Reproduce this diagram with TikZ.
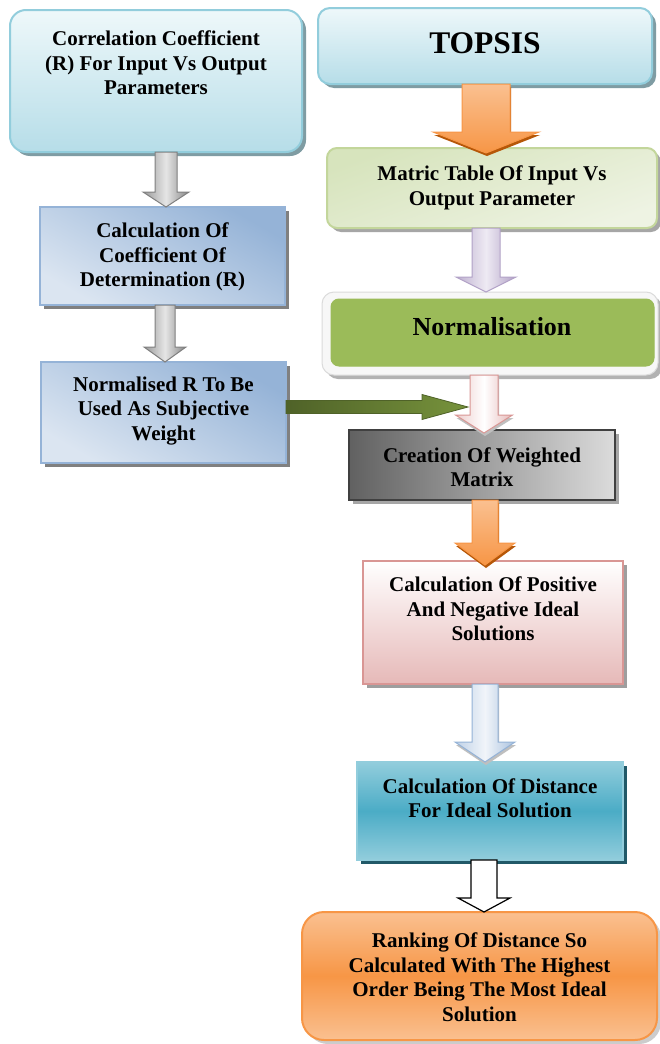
\documentclass[tikz,border=0pt]{standalone}
\usepackage{fontspec}
\setmainfont{Liberation Serif}
\usetikzlibrary{calc,shadows}
\definecolor{cyTop}{HTML}{EEF8FA}
\definecolor{cyBot}{HTML}{B6DDE8}
\definecolor{cyBrd}{HTML}{92CDDC}
\definecolor{cyShd}{HTML}{7F9CA3}
\definecolor{grTop}{HTML}{D7E4BD}
\definecolor{grBot}{HTML}{EEF3E3}
\definecolor{grBrd}{HTML}{C3D69B}
\definecolor{olive}{HTML}{9BBB59}
\definecolor{blLight}{HTML}{DBE5F1}
\definecolor{blDark}{HTML}{95B3D7}
\definecolor{pkBot}{HTML}{E6B9B8}
\definecolor{pkBrd}{HTML}{D99694}
\definecolor{tlMid}{HTML}{4BACC6}
\definecolor{tlEdge}{HTML}{92CDDC}
\definecolor{tlShd}{HTML}{215968}
\definecolor{orMid}{HTML}{F79646}
\definecolor{orLight}{HTML}{FAC090}
\definecolor{orShd}{HTML}{B65708}
\definecolor{puEdge}{HTML}{B2A2C7}
\definecolor{puLight}{HTML}{EEEAF3}
\definecolor{dkGreen}{HTML}{4F6228}
\definecolor{mdGreen}{HTML}{77933C}
\newcommand{\vblock}[7]{%
  \path[#1] let \p1=(#2), \p2=(#3) in
  ({\x1+#4pt-#5pt},\y1) -- ({\x1+#4pt+#5pt},\y1) -- ({\x1+#4pt+#5pt},{\y2+#7pt})
  -- ({\x1+#4pt+#6pt},{\y2+#7pt}) -- ({\x1+#4pt},\y2) -- ({\x1+#4pt-#6pt},{\y2+#7pt})
  -- ({\x1+#4pt-#5pt},{\y2+#7pt}) -- cycle;}
\newcommand{\hblock}[6]{%
  \path[#1] let \p1=(#2), \p2=(#3) in
  (\x1,{\y2+#4pt}) -- ({\x2-#6pt},{\y2+#4pt}) -- ({\x2-#6pt},{\y2+#5pt}) -- (\x2,\y2)
  -- ({\x2-#6pt},{\y2-#5pt}) -- ({\x2-#6pt},{\y2-#4pt}) -- (\x1,{\y2-#4pt}) -- cycle;}
\begin{document}
\begin{tikzpicture}[x=1pt,y=-1pt,
  box/.style={rectangle, inner sep=0pt, outer sep=0pt, line width=2pt},
  shd/.style={drop shadow={shadow xshift=4pt, shadow yshift=-4pt, fill=#1, opacity=1}},
  txt/.style={font=\fontsize{21}{24.5}\selectfont\bfseries, align=center, inner sep=0pt},
  corrbox/.style={box, rounded corners=16pt, top color=cyTop, bottom color=cyBot, draw=cyBrd, shd=cyShd},
  matbox/.style={box, rounded corners=10pt, top color=grTop, bottom color=grBot, shading angle=20, draw=grBrd, shd=black!35},
  bluebox/.style={box, top color=blLight, bottom color=blDark, shading angle=150, draw=blDark, shd=black!50},
  graybox/.style={box, left color=black!62, right color=black!14, draw=black!75, line width=1.5pt, shd=black!35},
  pinkbox/.style={box, top color=white, bottom color=pkBot, draw=pkBrd, shd=black!38},
  tealbox/.style={box, top color=tlEdge, bottom color=tlEdge, middle color=tlMid, draw=tlEdge, shd=tlShd},
  rankbox/.style={box, rounded corners=22pt, top color=orLight, bottom color=orLight, middle color=orMid, draw=orMid, shd=black!20},
  grayarr/.style={left color=black!40, right color=black!48, middle color=black!10, draw=black!50, line width=1pt},
  orarr/.style={top color=orLight, bottom color=orMid, draw=orMid, line width=1pt, drop shadow={shadow xshift=1pt, shadow yshift=-3pt, fill=orShd, opacity=1}},
  puarr/.style={left color=puEdge!85, right color=puEdge, middle color=puLight, draw=puEdge, line width=1pt},
  pkarr/.style={left color=pkBot!70, right color=pkBot, middle color=white, draw=pkBrd, line width=1pt, drop shadow={shadow xshift=1pt, shadow yshift=-3pt, fill=black!25, opacity=1}},
  blarr/.style={left color=blDark!60, right color=blDark!80, middle color=blLight!40, draw=blDark, line width=1pt, drop shadow={shadow xshift=1pt, shadow yshift=-3pt, fill=black!25, opacity=1}},
  wharr/.style={fill=white, draw=black, line width=1.2pt},
  gnarr/.style={left color=dkGreen, right color=mdGreen, draw=dkGreen, line width=0.8pt}
]
\useasboundingbox (0,0) rectangle (659,1044);
\fill[white] (0,0) rectangle (659,1044);

% left column
\node[corrbox, minimum width=292pt, minimum height=142pt] (corr) at (156,81) {};
\node[txt] (corrt) at (156,63) {Correlation Coefficient\\(R) For Input Vs Output\\Parameters};
\node[bluebox, minimum width=245pt, minimum height=98pt] (coef) at (162.5,256) {};
\node[txt] (coeft) at (162.5,257) {Calculation Of\\Coefficient Of\\Determination (R)};
\node[bluebox, minimum width=245pt, minimum height=101pt] (nr) at (163.5,412.5) {};
\node[txt] (nrt) at (163.5,411) {Normalised R To Be\\Used As Subjective\\Weight};

% right column
\node[corrbox, rounded corners=12pt, minimum width=334pt, minimum height=76pt] (top) at (485,46) {};
\node[txt, font=\fontsize{31.5}{36}\selectfont\bfseries] (topt) at (485,43) {TOPSIS};
\node[matbox, minimum width=330pt, minimum height=80pt] (mat) at (492,188) {};
\node[txt] (matt) at (492,188) {Matric Table Of Input Vs\\Output Parameter};
\node[box, rounded corners=12pt, fill=black!3, draw=black!14, line width=1pt, shd=black!30, minimum width=336pt, minimum height=83pt] (normf) at (490,333.5) {};
\node[box, rounded corners=8pt, fill=olive, draw=olive, line width=1pt, minimum width=323pt, minimum height=67pt] (norm) at (492.5,332.5) {};
\node[txt, font=\fontsize{26}{30}\selectfont\bfseries] (normt) at (492,327) {Normalisation};
\node[graybox, minimum width=266pt, minimum height=70pt] (cre) at (482,465) {};
\node[txt] (cret) at (482,467) {Creation Of Weighted\\Matrix};
\node[pinkbox, minimum width=260pt, minimum height=123pt] (pos) at (493,622.5) {};
\node[txt] (post) at (493,609) {Calculation Of Positive\\And Negative Ideal\\Solutions};
\node[tealbox, minimum width=266pt, minimum height=98pt] (dist) at (490,811) {};
\node[txt] (distt) at (490,798) {Calculation Of Distance\\For Ideal Solution};
\node[rankbox, minimum width=355pt, minimum height=128pt] (rank) at (479.5,976) {};
\node[txt] (rankt) at (479.5,977) {Ranking Of Distance So\\Calculated With The Highest\\Order Being The Most Ideal\\Solution};

% block arrows
\vblock{grayarr}{corr.south}{coef.north}{10}{11}{23}{15}
\vblock{grayarr}{coef.south}{nr.north}{2.5}{10}{21}{15}
\vblock{orarr}{top.south}{$(mat.north)+(0,5)$}{1}{24}{53}{21}
\vblock{puarr}{mat.south}{normf.north}{-6}{14}{30}{15}
\vblock{pkarr}{normf.south}{$(cre.north)+(0,3)$}{-6}{14}{28.5}{18}
\coordinate (gtip) at (468,407);
\hblock{gnarr}{nr.east}{gtip}{6.5}{12.5}{46}
\vblock{orarr}{cre.south}{$(pos.north)+(0,4)$}{3}{13}{30}{22}
\vblock{blarr}{pos.south}{dist.north}{-8}{13}{30}{20}
\vblock{wharr}{dist.south}{rank.north}{-6}{13}{26}{14}
\end{tikzpicture}
\end{document}
